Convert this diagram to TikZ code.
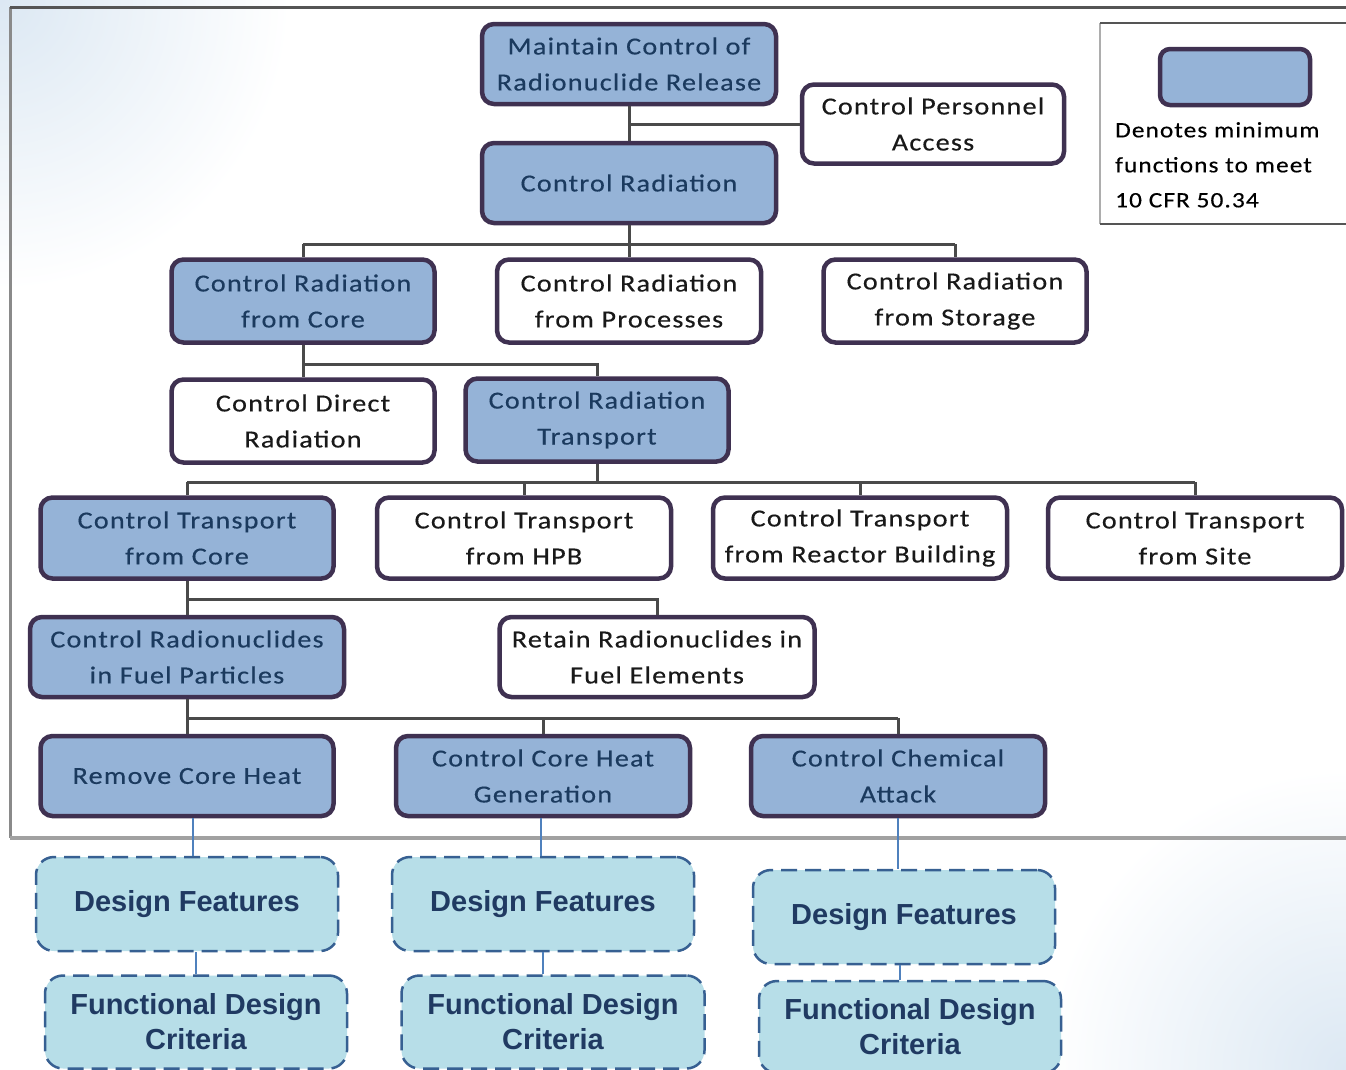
\documentclass[tikz,border=0pt]{standalone}
\usepackage{fontspec}
\newfontfamily\calfont[FakeStretch=1.15,LetterSpace=5,FakeBold=0.4]{Carlito}
\newfontfamily\dffont{Liberation Sans}
\usetikzlibrary{calc}
\definecolor{reqfill}{HTML}{95B3D7}
\definecolor{boxborder}{HTML}{3F3151}
\definecolor{reqtext}{HTML}{1B3A5E}
\definecolor{dffill}{HTML}{B7DEE8}
\definecolor{dfborder}{HTML}{376092}
\definecolor{dftext}{HTML}{203A62}
\definecolor{linkblue}{HTML}{4F81BD}
\definecolor{bgblue}{HTML}{DCE8F3}
\definecolor{framegray}{HTML}{8A8A8A}
\definecolor{framedark}{HTML}{555555}
\definecolor{linkgray}{HTML}{4A4A4A}
\tikzset{
  boxbase/.style={rounded corners=12pt, line width=4.5pt, draw=boxborder, align=center,
    font=\calfont\fontsize{24.5}{36}\selectfont, inner sep=0pt},
  reqbox/.style={boxbase, fill=reqfill, text=reqtext},
  optbox/.style={boxbase, fill=white, text=black!90},
  dfbox/.style={rounded corners=18pt, draw=dfborder, line width=2.5pt, dash pattern=on 16pt off 8pt,
    fill=dffill, text=dftext, font=\dffont\bfseries\fontsize{29}{35}\selectfont, align=center, inner sep=0pt},
  tree/.style={draw=linkgray, line width=3pt},
  bluelink/.style={draw=linkblue, line width=2pt},
}
\begin{document}
\begin{tikzpicture}[x=1pt,y=-1pt]
\useasboundingbox (0,0) rectangle (1346,1069);
% background
\fill[white] (0,0) rectangle (1346,1069);
\begin{scope}
\clip (0,0) rectangle (1346,1069);
\shade[inner color=bgblue, outer color=white] (0,0) circle (290);
\shade[inner color=bgblue, outer color=white] (1346,1069) circle (300);
\end{scope}
% frame
\draw[framegray, line width=3pt] (10,838) -- (10,7);
\draw[framedark, line width=3pt] (10,7) -- (1346,7);
\draw[framegray!80, line width=4pt] (10,838) -- (1346,838);

% legend
\fill[white] (1100,23) rectangle (1346,224);
\draw[framegray!70, line width=2.5pt] (1100,23) -- (1100,224);
\draw[framedark, line width=2.5pt] (1100,23) -- (1346,23);
\draw[framedark, line width=2.5pt] (1100,224) -- (1346,224);
\node[reqbox, rounded corners=10pt, minimum width=150, minimum height=56] (legbox) at (1235,77) {};
\node[anchor=north west, align=left, inner sep=0pt, text=black, font=\calfont\fontsize{22}{35}\selectfont] (legtext) at (1115,122) {Denotes minimum\\functions to meet\\10 CFR 50.34};

% nodes
\node[reqbox, minimum width=294, minimum height=80] (maintain) at (629,64) {Maintain Control of\\Radionuclide Release};
\node[optbox, minimum width=262, minimum height=79] (personnel) at (933,124) {Control Personnel\\Access};
\node[reqbox, minimum width=294, minimum height=80] (crad) at (629,183) {Control Radiation};

\node[reqbox, minimum width=263, minimum height=83] (rcore) at (303,301) {Control Radiation\\from Core};
\node[optbox, minimum width=264, minimum height=83] (rproc) at (629,301) {Control Radiation\\from Processes};
\node[optbox, minimum width=263, minimum height=83] (rstor) at (955,301) {Control Radiation\\from Storage};

\node[optbox, minimum width=263, minimum height=83] (direct) at (303,421) {Control Direct\\Radiation};
\node[reqbox, minimum width=263, minimum height=83] (rtrans) at (597,420) {Control Radiation\\Transport};

\node[reqbox, minimum width=293, minimum height=81] (tcore) at (187,538) {Control Transport\\from Core};
\node[optbox, minimum width=294, minimum height=81] (thpb) at (524,538) {Control Transport\\from HPB};
\node[optbox, minimum width=294, minimum height=81] (treac) at (860,538) {Control Transport\\from Reactor Building};
\node[optbox, minimum width=294, minimum height=81] (tsite) at (1195,538) {Control Transport\\from Site};

\node[reqbox, minimum width=314, minimum height=80] (fuelp) at (187,657) {Control Radionuclides\\in Fuel Particles};
\node[optbox, minimum width=315, minimum height=80] (retain) at (657,657) {Retain Radionuclides in\\Fuel Elements};

\node[reqbox, minimum width=293, minimum height=80] (remove) at (187,776) {Remove Core Heat};
\node[reqbox, minimum width=294, minimum height=80] (heatgen) at (543,776) {Control Core Heat\\Generation};
\node[reqbox, minimum width=294, minimum height=80] (chem) at (898,776) {Control Chemical\\Attack};

\node[dfbox, minimum width=302, minimum height=94] (df1) at (187,904) {Design Features};
\node[dfbox, minimum width=302, minimum height=94] (df2) at (543,904) {Design Features};
\node[dfbox, minimum width=302, minimum height=94] (df3) at (904,917) {Design Features};
\node[dfbox, minimum width=302, minimum height=93] (fdc1) at (196,1022) {Functional Design\\Criteria};
\node[dfbox, minimum width=303, minimum height=93] (fdc2) at (553,1022) {Functional Design\\Criteria};
\node[dfbox, minimum width=302, minimum height=92] (fdc3) at (910,1027) {Functional Design\\Criteria};

% tree connectors
\coordinate (b0) at (629,124);
\draw[tree] (maintain.south) -- (crad.north);
\draw[tree] (b0) -- (personnel.west);

\coordinate (b1) at (629,244);
\draw[tree] (crad.south) -- (b1);
\draw[tree] (rcore.north |- b1) -- (rstor.north |- b1);
\draw[tree] (rcore.north |- b1) -- (rcore.north);
\draw[tree] (rproc.north |- b1) -- (rproc.north);
\draw[tree] (rstor.north |- b1) -- (rstor.north);

\coordinate (b2) at (303,364);
\draw[tree] (rcore.south) -- (direct.north);
\draw[tree] (b2) -- (rtrans.north |- b2) -- (rtrans.north);

\coordinate (b3) at (597,482);
\draw[tree] (rtrans.south) -- (b3);
\draw[tree] (tcore.north |- b3) -- (tsite.north |- b3);
\draw[tree] (tcore.north |- b3) -- (tcore.north);
\draw[tree] (thpb.north |- b3) -- (thpb.north);
\draw[tree] (treac.north |- b3) -- (treac.north);
\draw[tree] (tsite.north |- b3) -- (tsite.north);

\coordinate (b4) at (187,599);
\draw[tree] (tcore.south) -- (fuelp.north);
\draw[tree] (b4) -- (retain.north |- b4) -- (retain.north);

\coordinate (b5) at (187,718);
\draw[tree] (fuelp.south) -- (remove.north);
\draw[tree] (b5) -- (chem.north |- b5);
\draw[tree] (heatgen.north |- b5) -- (heatgen.north);
\draw[tree] (chem.north |- b5) -- (chem.north);

% blue links
\draw[bluelink] ([xshift=6pt]remove.south) -- ([xshift=6pt]remove.south |- df1.north);
\draw[bluelink] ([xshift=9pt]df1.south) -- ([xshift=9pt]df1.south |- fdc1.north);
\draw[bluelink] ([xshift=-2pt]heatgen.south) -- ([xshift=-2pt]heatgen.south |- df2.north);
\draw[bluelink] (df2.south) -- (df2.south |- fdc2.north);
\draw[bluelink] (chem.south) -- (chem.south |- df3.north);
\draw[bluelink] ([xshift=-4pt]df3.south) -- ([xshift=-4pt]df3.south |- fdc3.north);
\end{tikzpicture}
\end{document}
